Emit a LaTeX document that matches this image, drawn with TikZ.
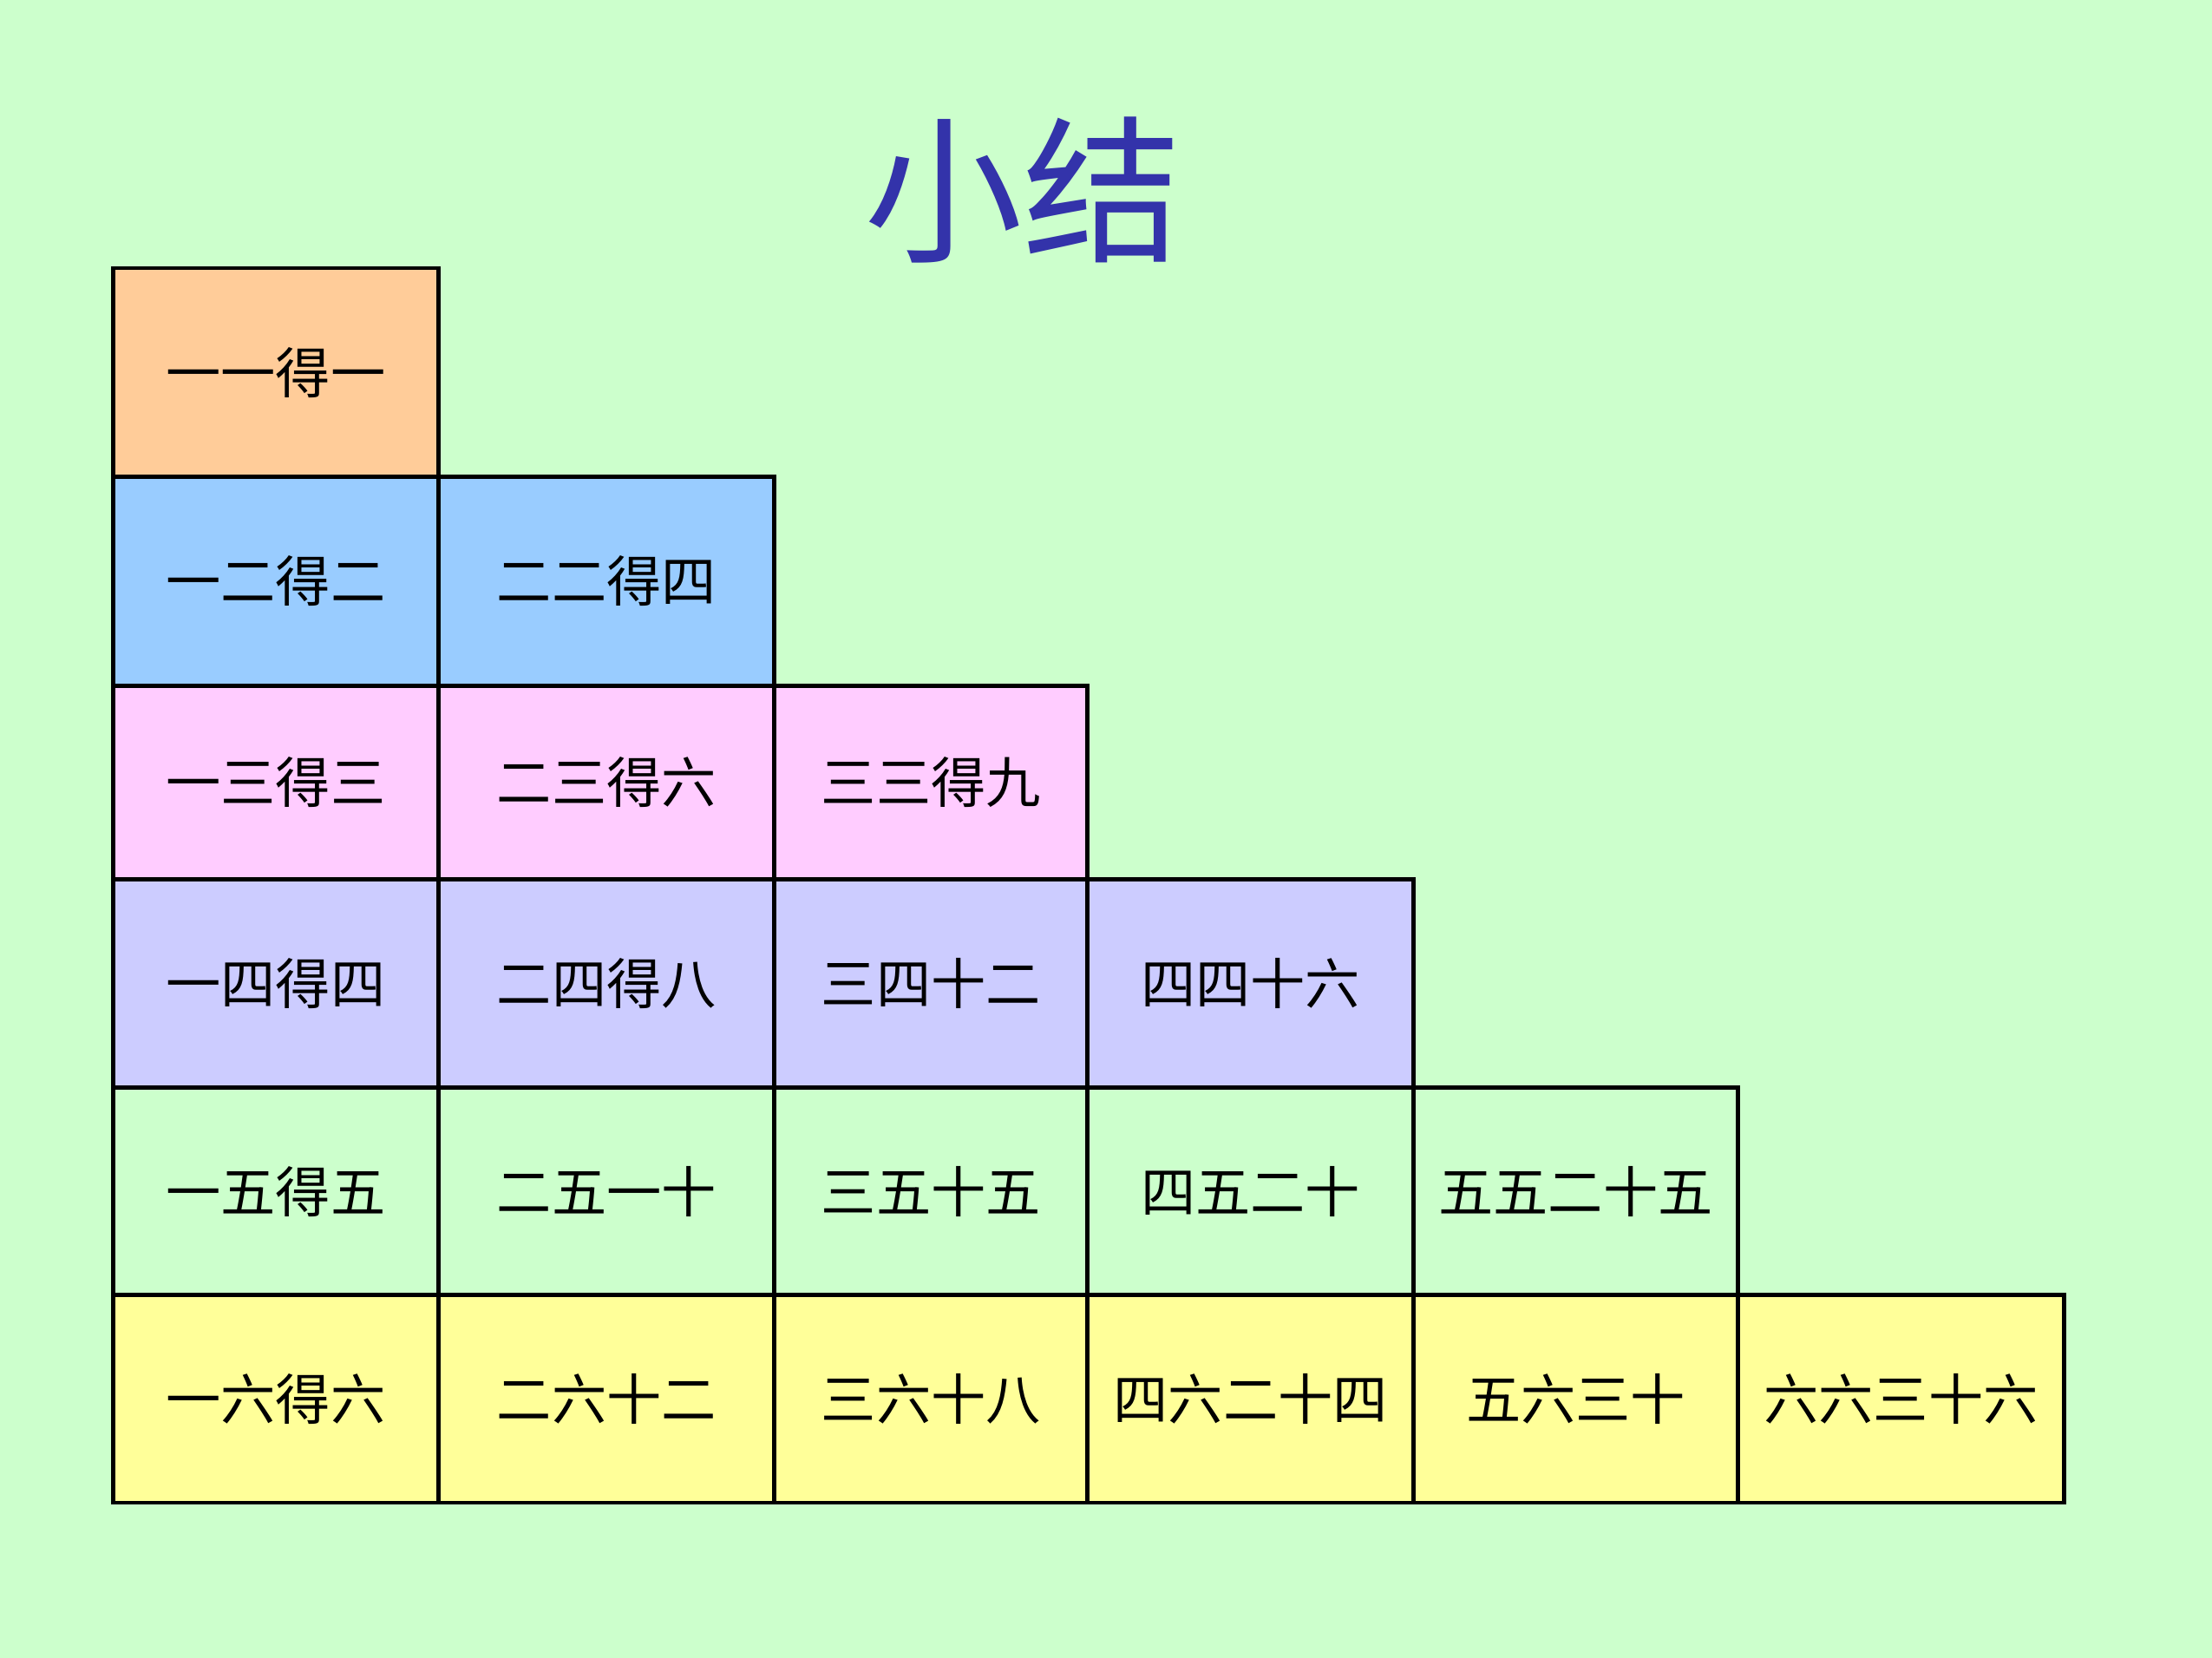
\documentclass[tikz,border=0pt]{standalone}
\usepackage{fontspec}
\setmainfont{Noto Sans CJK SC}
\definecolor{bgGreen}{HTML}{CCFFCC}
\definecolor{rowOne}{HTML}{FFCC99}
\definecolor{rowTwo}{HTML}{99CCFF}
\definecolor{rowThree}{HTML}{FFCCFF}
\definecolor{rowFour}{HTML}{CCCCFF}
\definecolor{rowFive}{HTML}{CCFFCC}
\definecolor{rowSix}{HTML}{FFFF99}
\definecolor{titleBlue}{HTML}{3333AA}
\tikzset{
  cell/.style={draw=black, line width=1.4pt},
  celltext/.style={font=\fontsize{18}{18}\selectfont, text=black}
}
\newcommand{\kcell}[6]{%
  \draw[cell, fill=#5] (#1,#2) rectangle (#3,#4) node[midway, celltext] {#6};}
\begin{document}
\begin{tikzpicture}[x=0.01626cm, y=-0.01626cm]
    \fill[bgGreen] (0,0) rectangle (1568,1175);
    \useasboundingbox (0,0) rectangle (1568,1175);

    \node[font=\fontsize{52}{52}\selectfont, text=titleBlue] (title) at (725,135) {小结};

    % row 1
    \kcell{80}{190}{311}{338}{rowOne}{一一得一}
    % row 2
    \kcell{80}{338}{311}{486}{rowTwo}{一二得二}
    \kcell{311}{338}{549}{486}{rowTwo}{二二得四}
    % row 3
    \kcell{80}{486}{311}{623}{rowThree}{一三得三}
    \kcell{311}{486}{549}{623}{rowThree}{二三得六}
    \kcell{549}{486}{771}{623}{rowThree}{三三得九}
    % row 4
    \kcell{80}{623}{311}{771}{rowFour}{一四得四}
    \kcell{311}{623}{549}{771}{rowFour}{二四得八}
    \kcell{549}{623}{771}{771}{rowFour}{三四十二}
    \kcell{771}{623}{1002}{771}{rowFour}{四四十六}
    % row 5
    \kcell{80}{771}{311}{918}{rowFive}{一五得五}
    \kcell{311}{771}{549}{918}{rowFive}{二五一十}
    \kcell{549}{771}{771}{918}{rowFive}{三五十五}
    \kcell{771}{771}{1002}{918}{rowFive}{四五二十}
    \kcell{1002}{771}{1232}{918}{rowFive}{五五二十五}
    % row 6
    \kcell{80}{918}{311}{1065}{rowSix}{一六得六}
    \kcell{311}{918}{549}{1065}{rowSix}{二六十二}
    \kcell{549}{918}{771}{1065}{rowSix}{三六十八}
    \kcell{771}{918}{1002}{1065}{rowSix}{四六二十四}
    \kcell{1002}{918}{1232}{1065}{rowSix}{五六三十}
    \kcell{1232}{918}{1463}{1065}{rowSix}{六六三十六}
\end{tikzpicture}
\end{document}
